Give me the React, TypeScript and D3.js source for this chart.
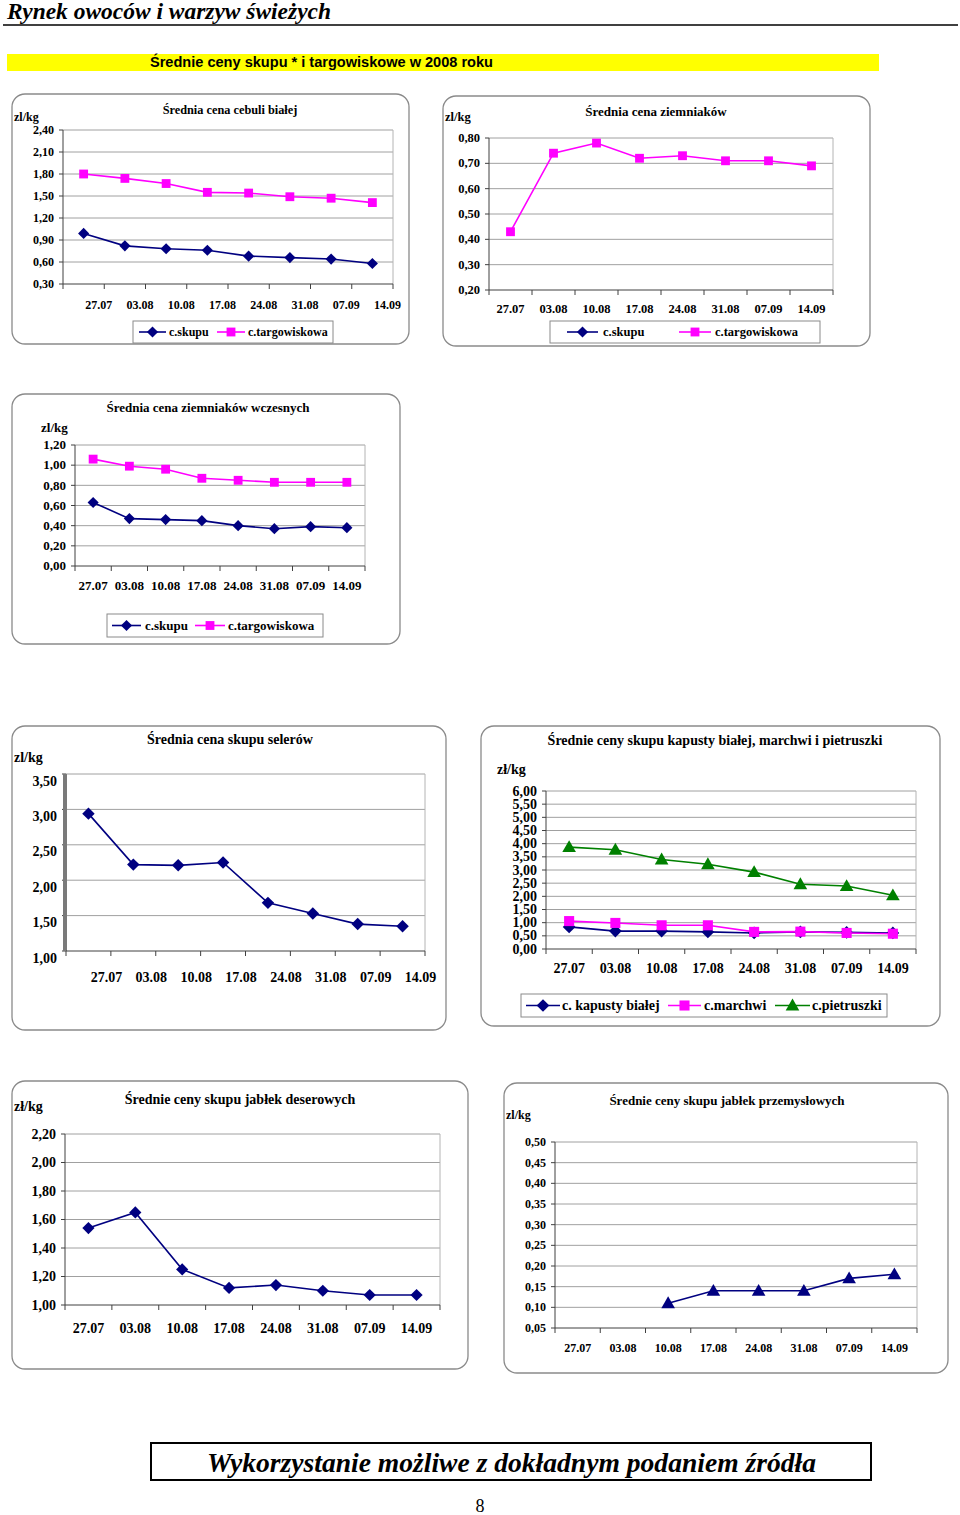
import * as d3 from 'd3'

// tygodnie notowań
const dates = ['27.07', '03.08', '10.08', '17.08', '24.08', '31.08', '07.09', '14.09']

// cebula biała
const cebulaSkup = [0.99, 0.82, 0.78, 0.76, 0.68, 0.66, 0.64, 0.58]
const cebulaTarg = [1.8, 1.74, 1.67, 1.55, 1.54, 1.49, 1.47, 1.41]
const cebulaTicks = [0.3, 0.6, 0.9, 1.2, 1.5, 1.8, 2.1, 2.4]

// ziemniaki
const ziemniakiSkup: (number | null)[] = [null, null, null, null, null, null, null, null]
const ziemniakiTarg = [0.43, 0.74, 0.78, 0.72, 0.73, 0.71, 0.71, 0.69]
const ziemniakiTicks = [0.2, 0.3, 0.4, 0.5, 0.6, 0.7, 0.8]

// ziemniaki wczesne
const wczesneSkup = [0.63, 0.47, 0.46, 0.45, 0.4, 0.37, 0.39, 0.38]
const wczesneTarg = [1.06, 0.99, 0.96, 0.87, 0.85, 0.83, 0.83, 0.83]
const wczesneTicks = [0, 0.2, 0.4, 0.6, 0.8, 1.0, 1.2]

// selery
const selerSkup = [2.94, 2.22, 2.21, 2.25, 1.68, 1.53, 1.38, 1.35]
const selerTicks = [1.0, 1.5, 2.0, 2.5, 3.0, 3.5]

// kapusta, marchew, pietruszka
const kapustaSkup = [0.84, 0.68, 0.68, 0.65, 0.61, 0.65, 0.63, 0.61]
const marchewSkup = [1.06, 0.99, 0.9, 0.9, 0.65, 0.66, 0.61, 0.58]
const pietruszkaSkup = [3.87, 3.77, 3.4, 3.22, 2.92, 2.46, 2.39, 2.04]
const warzywaTicks = [0, 0.5, 1, 1.5, 2, 2.5, 3, 3.5, 4, 4.5, 5, 5.5, 6]

// jabłka deserowe
const deseroweSkup = [1.54, 1.65, 1.25, 1.12, 1.14, 1.1, 1.07, 1.07]
const deseroweTicks = [1.0, 1.2, 1.4, 1.6, 1.8, 2.0, 2.2]

// jabłka przemysłowe
const przemysloweSkup: (number | null)[] = [null, null, 0.11, 0.14, 0.14, 0.14, 0.17, 0.18]
const przemysloweTicks = [0.05, 0.1, 0.15, 0.2, 0.25, 0.3, 0.35, 0.4, 0.45, 0.5]

const NAVY = '#000080'
const MAGENTA = '#ff00ff'
const GREEN = '#008000'
const serif = "'Liberation Serif', 'Times New Roman', serif"
const sans = "'Liberation Sans', Arial, sans-serif"

type Marker = 'diamond' | 'square' | 'triangle'
interface Series {
  name: string
  values: (number | null)[]
  color: string
  marker: Marker
}
interface LegendItem {
  s: Series
  lx0: number
  lx1: number
  tx: number
}
interface ChartCfg {
  box: [number, number, number, number]
  plot: { x0: number; x1: number; top: number; bottom: number }
  domain: [number, number]
  ticks: number[]
  title: string
  titleX: number
  titleY: number
  titleSize: number
  unit: string
  unitX: number
  unitY: number
  tickSize: number
  tickDy?: number
  labelY: number
  labelDx?: number
  labelSize: number
  series: Series[]
  markerScale?: number
  thickAxis?: boolean
  legend?: { box: [number, number, number, number]; items: LegendItem[]; size: number }
}

const fmt = (v: number) => d3.format('.2f')(v).replace('.', ',')

const markerPath = (m: Marker, k = 1) => {
  if (m === 'diamond') return d3.symbol(d3.symbolSquare, 62 * k)()!
  if (m === 'square') return d3.symbol(d3.symbolSquare, 78 * k)()!
  return d3.symbol(d3.symbolTriangle, 62 * k)()!
}

const MarkerMark = ({ m, cx, cy, color, k }: { m: Marker; cx: number; cy: number; color: string; k?: number }) => (
  <path
    d={markerPath(m, k)}
    fill={color}
    transform={`translate(${cx},${cy})${m === 'diamond' ? ' rotate(45)' : m === 'triangle' ? ' translate(0,1)' : ''}`}
  />
)

const LineChart = ({ c }: { c: ChartCfg }) => {
  const { x0, x1, top, bottom } = c.plot
  const x = d3.scaleBand().domain(dates).range([x0, x1])
  const y = d3.scaleLinear().domain(c.domain).range([bottom, top])
  const cx = (i: number) => x(dates[i])! + x.bandwidth() / 2
  const line = d3
    .line<number | null>()
    .defined((v) => v != null)
    .x((_, i) => cx(i))
    .y((v) => y(v as number))
  const bounds = [...dates.map((d) => x(d)!), x1]

  return (
    <g>
      <rect x={c.box[0]} y={c.box[1]} width={c.box[2]} height={c.box[3]} rx={13} fill="white" stroke="#8a8a8a" strokeWidth={1.3} />
      <text x={c.titleX} y={c.titleY} textAnchor="middle" fontFamily={serif} fontWeight="bold" fontSize={c.titleSize}>
        {c.title}
      </text>
      <text x={c.unitX} y={c.unitY} fontFamily={serif} fontWeight="bold" fontSize={c.tickSize}>
        {c.unit}
      </text>

      {c.ticks.map((t) =>
        t === c.domain[0] ? null : (
          <line key={t} x1={x0} x2={x1} y1={y(t)} y2={y(t)} stroke="#a0a0a0" strokeWidth={1} />
        )
      )}
      <line x1={x1} x2={x1} y1={top} y2={bottom} stroke="#b4b4b4" />
      {c.ticks.map((t) => (
        <g key={'t' + t}>
          <line x1={x0 - 4} x2={x0} y1={y(t)} y2={y(t)} stroke="#404040" />
          <text
            x={x0 - 9}
            y={y(t) + (c.tickDy ?? 0)}
            dy="0.33em"
            textAnchor="end"
            fontFamily={serif}
            fontWeight="bold"
            fontSize={c.tickSize}
          >
            {fmt(t)}
          </text>
        </g>
      ))}
      {c.thickAxis ? (
        <rect x={x0 - 3} y={top} width={4} height={bottom - top} fill="#7a7a7a" />
      ) : (
        <line x1={x0} x2={x0} y1={top} y2={bottom} stroke="#404040" />
      )}
      <line x1={x0} x2={x1} y1={bottom} y2={bottom} stroke="#404040" />
      {bounds.map((b, i) => (
        <line key={'b' + i} x1={b} x2={b} y1={bottom} y2={bottom + 5} stroke="#404040" />
      ))}
      {dates.map((d, i) => (
        <text
          key={d}
          x={cx(i) + (c.labelDx ?? 0)}
          y={c.labelY}
          textAnchor="middle"
          fontFamily={serif}
          fontWeight="bold"
          fontSize={c.labelSize}
        >
          {d}
        </text>
      ))}

      {c.series.map((s) => (
        <g key={s.name}>
          <path d={line(s.values) ?? ''} fill="none" stroke={s.color} strokeWidth={1.6} />
          {s.values.map((v, i) =>
            v == null ? null : <MarkerMark key={i} m={s.marker} cx={cx(i)} cy={y(v)} color={s.color} k={c.markerScale} />
          )}
        </g>
      ))}

      {c.legend && (
        <g>
          <rect
            x={c.legend.box[0]}
            y={c.legend.box[1]}
            width={c.legend.box[2]}
            height={c.legend.box[3]}
            fill="white"
            stroke="#8a8a8a"
          />
          {c.legend.items.map((it) => {
            const ly = c.legend!.box[1] + c.legend!.box[3] / 2
            return (
              <g key={it.s.name}>
                <line x1={it.lx0} x2={it.lx1} y1={ly} y2={ly} stroke={it.s.color} strokeWidth={1.6} />
                <MarkerMark m={it.s.marker} cx={(it.lx0 + it.lx1) / 2} cy={ly} color={it.s.color} k={c.markerScale} />
                <text x={it.tx} y={ly} dy="0.35em" fontFamily={serif} fontWeight="bold" fontSize={c.legend!.size}>
                  {it.s.name}
                </text>
              </g>
            )
          })}
        </g>
      )}
    </g>
  )
}

const sCebulaSkup: Series = { name: 'c.skupu', values: cebulaSkup, color: NAVY, marker: 'diamond' }
const sCebulaTarg: Series = { name: 'c.targowiskowa', values: cebulaTarg, color: MAGENTA, marker: 'square' }
const sZiemSkup: Series = { name: 'c.skupu', values: ziemniakiSkup, color: NAVY, marker: 'diamond' }
const sZiemTarg: Series = { name: 'c.targowiskowa', values: ziemniakiTarg, color: MAGENTA, marker: 'square' }
const sWczSkup: Series = { name: 'c.skupu', values: wczesneSkup, color: NAVY, marker: 'diamond' }
const sWczTarg: Series = { name: 'c.targowiskowa', values: wczesneTarg, color: MAGENTA, marker: 'square' }
const sSeler: Series = { name: 'c.skupu', values: selerSkup, color: NAVY, marker: 'diamond' }
const sKapusta: Series = { name: 'c. kapusty białej', values: kapustaSkup, color: NAVY, marker: 'diamond' }
const sMarchew: Series = { name: 'c.marchwi', values: marchewSkup, color: MAGENTA, marker: 'square' }
const sPietruszka: Series = { name: 'c.pietruszki', values: pietruszkaSkup, color: GREEN, marker: 'triangle' }
const sDeserowe: Series = { name: 'c.skupu', values: deseroweSkup, color: NAVY, marker: 'diamond' }
const sPrzemyslowe: Series = { name: 'c.skupu', values: przemysloweSkup, color: NAVY, marker: 'triangle' }

const charts: ChartCfg[] = [
  {
    box: [12, 94, 397, 250],
    plot: { x0: 63, x1: 393, top: 130, bottom: 284 },
    domain: [0.3, 2.4],
    ticks: cebulaTicks,
    title: 'Średnia cena cebuli białej',
    titleX: 230,
    titleY: 114,
    titleSize: 12.3,
    unit: 'zl/kg',
    unitX: 14,
    unitY: 121,
    tickSize: 12,
    labelY: 309,
    labelDx: 15,
    labelSize: 12,
    series: [sCebulaSkup, sCebulaTarg],
    legend: {
      box: [133, 321, 200, 22],
      size: 12,
      items: [
        { s: sCebulaSkup, lx0: 139, lx1: 166, tx: 169 },
        { s: sCebulaTarg, lx0: 217, lx1: 245, tx: 248 },
      ],
    },
  },
  {
    box: [443, 96, 427, 250],
    plot: { x0: 489, x1: 833, top: 138, bottom: 290 },
    domain: [0.2, 0.8],
    ticks: ziemniakiTicks,
    title: 'Średnia cena ziemniaków',
    titleX: 656,
    titleY: 116,
    titleSize: 13,
    unit: 'zl/kg',
    unitX: 445,
    unitY: 121,
    tickSize: 12.5,
    labelY: 313,
    labelSize: 12.5,
    series: [sZiemSkup, sZiemTarg],
    legend: {
      box: [550, 321, 270, 22],
      size: 12.5,
      items: [
        { s: sZiemSkup, lx0: 567, lx1: 598, tx: 603 },
        { s: sZiemTarg, lx0: 679, lx1: 711, tx: 715 },
      ],
    },
  },
  {
    box: [12, 394, 388, 250],
    plot: { x0: 75, x1: 365, top: 445, bottom: 566 },
    domain: [0, 1.2],
    ticks: wczesneTicks,
    title: 'Średnia cena ziemniaków wczesnych',
    titleX: 208,
    titleY: 412,
    titleSize: 13,
    unit: 'zl/kg',
    unitX: 41,
    unitY: 432,
    tickSize: 13,
    labelY: 590,
    labelSize: 13,
    series: [sWczSkup, sWczTarg],
    legend: {
      box: [107, 614, 216, 23],
      size: 13,
      items: [
        { s: sWczSkup, lx0: 112, lx1: 141, tx: 145 },
        { s: sWczTarg, lx0: 195, lx1: 225, tx: 228 },
      ],
    },
  },
  {
    box: [12, 726, 434, 304],
    plot: { x0: 66, x1: 425, top: 774, bottom: 951 },
    domain: [1, 3.5],
    ticks: selerTicks,
    title: 'Średnia cena skupu selerów',
    titleX: 230,
    titleY: 744,
    titleSize: 14,
    unit: 'zl/kg',
    unitX: 14,
    unitY: 762,
    tickSize: 14,
    tickDy: 7,
    labelY: 982,
    labelDx: 18,
    labelSize: 14,
    markerScale: 1.25,
    thickAxis: true,
    series: [sSeler],
  },
  {
    box: [481, 726, 459, 300],
    plot: { x0: 546, x1: 916, top: 791, bottom: 949 },
    domain: [0, 6],
    ticks: warzywaTicks,
    title: 'Średnie ceny skupu  kapusty białej, marchwi i pietruszki',
    titleX: 715,
    titleY: 745,
    titleSize: 14,
    unit: 'zł/kg',
    unitX: 497,
    unitY: 774,
    tickSize: 14,
    labelY: 973,
    labelSize: 14,
    markerScale: 1.3,
    series: [sKapusta, sMarchew, sPietruszka],
    legend: {
      box: [521, 994, 366, 23],
      size: 14,
      items: [
        { s: sKapusta, lx0: 526, lx1: 560, tx: 562 },
        { s: sMarchew, lx0: 668, lx1: 701, tx: 704 },
        { s: sPietruszka, lx0: 775, lx1: 810, tx: 812 },
      ],
    },
  },
  {
    box: [12, 1081, 456, 288],
    plot: { x0: 65, x1: 440, top: 1134, bottom: 1305 },
    domain: [1, 2.2],
    ticks: deseroweTicks,
    title: 'Średnie ceny skupu jabłek deserowych',
    titleX: 240,
    titleY: 1104,
    titleSize: 14,
    unit: 'zł/kg',
    unitX: 14,
    unitY: 1111,
    tickSize: 14,
    labelY: 1333,
    labelSize: 14,
    markerScale: 1.2,
    series: [sDeserowe],
  },
  {
    box: [504, 1083, 444, 290],
    plot: { x0: 555, x1: 917, top: 1142, bottom: 1328 },
    domain: [0.05, 0.5],
    ticks: przemysloweTicks,
    title: 'Średnie ceny skupu jabłek przemysłowych',
    titleX: 727,
    titleY: 1105,
    titleSize: 13,
    unit: 'zl/kg',
    unitX: 506,
    unitY: 1119,
    tickSize: 12,
    labelY: 1352,
    labelSize: 12,
    markerScale: 1.3,
    series: [sPrzemyslowe],
  },
]

export default function App() {
  return (
    <svg width={960} height={1515} style={{ position: 'absolute', left: 0, top: 0, background: 'white' }}>
      <rect width={960} height={1515} fill="white" />
      <text
        x={7}
        y={19}
        fontFamily={serif}
        fontStyle="italic"
        fontWeight="bold"
        fontSize={23}
        textLength={324}
        lengthAdjust="spacingAndGlyphs"
      >
        Rynek owoców i warzyw świeżych
      </text>
      <line x1={3} x2={958} y1={25} y2={25} stroke="black" strokeWidth={1.5} />

      <rect x={7} y={54} width={872} height={17} fill="#ffff00" />
      <text
        x={150}
        y={67}
        fontFamily={sans}
        fontWeight="bold"
        fontSize={14}
        textLength={343}
        lengthAdjust="spacingAndGlyphs"
      >
        Średnie ceny skupu * i targowiskowe w 2008 roku
      </text>

      {charts.map((c) => (
        <LineChart key={c.title} c={c} />
      ))}

      <rect x={151} y={1443} width={720} height={37} fill="white" stroke="black" strokeWidth={2} />
      <text
        x={207}
        y={1472}
        fontFamily={serif}
        fontStyle="italic"
        fontWeight="bold"
        fontSize={28}
        textLength={609}
        lengthAdjust="spacingAndGlyphs"
      >
        Wykorzystanie możliwe z dokładnym podaniem źródła
      </text>
      <text x={480} y={1512} textAnchor="middle" fontFamily={serif} fontSize={18}>
        8
      </text>
    </svg>
  )
}
